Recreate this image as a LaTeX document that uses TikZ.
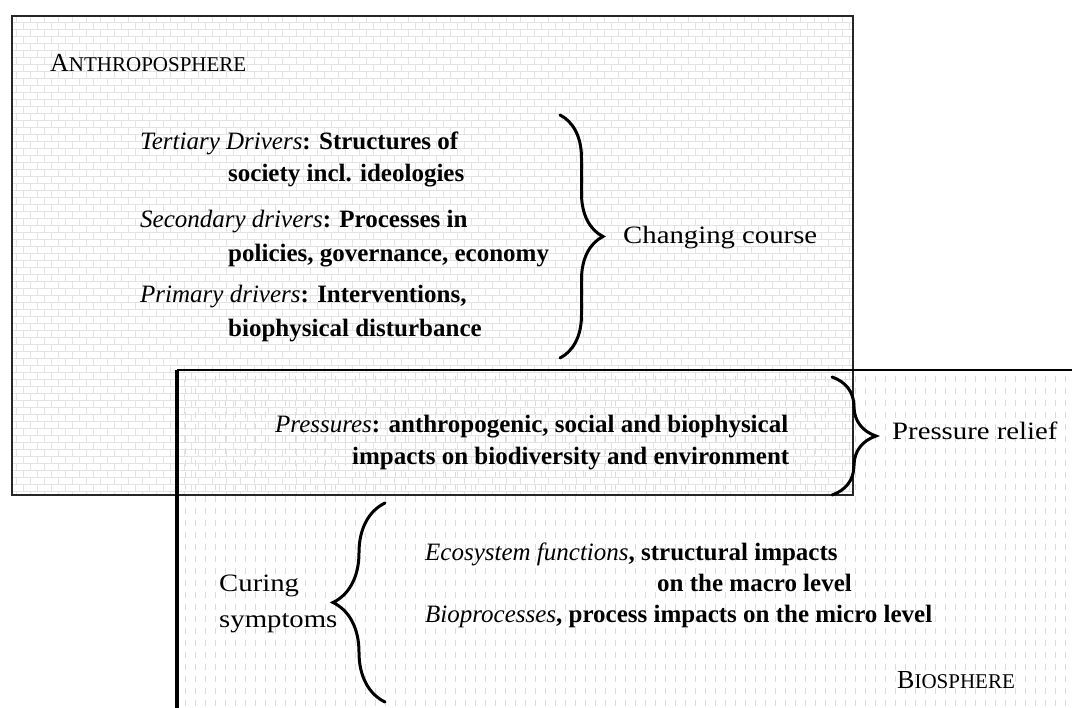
\documentclass[tikz,border=0pt]{standalone}
\usepackage{fontspec}
\setmainfont{Liberation Serif}
\newfontfamily\garfont[FakeStretch=1.15]{Liberation Serif}
\usetikzlibrary{patterns,decorations.pathreplacing}
\pgfdeclarepatternformonly{mybricks}{\pgfqpoint{-1pt}{-1pt}}{\pgfqpoint{15pt}{15pt}}{\pgfqpoint{14pt}{14pt}}{%
  \pgfsetlinewidth{0.7pt}%
  \pgfpathmoveto{\pgfqpoint{0pt}{0pt}}\pgfpathlineto{\pgfqpoint{14pt}{0pt}}%
  \pgfpathmoveto{\pgfqpoint{0pt}{7pt}}\pgfpathlineto{\pgfqpoint{14pt}{7pt}}%
  \pgfpathmoveto{\pgfqpoint{2pt}{0pt}}\pgfpathlineto{\pgfqpoint{2pt}{7pt}}%
  \pgfpathmoveto{\pgfqpoint{9pt}{7pt}}\pgfpathlineto{\pgfqpoint{9pt}{14pt}}%
  \pgfusepath{stroke}}
\pgfdeclarepatternformonly{mydashes}{\pgfqpoint{-1pt}{-1pt}}{\pgfqpoint{11pt}{13pt}}{\pgfqpoint{10pt}{12pt}}{%
  \pgfsetlinewidth{0.8pt}%
  \pgfpathmoveto{\pgfqpoint{5pt}{2pt}}\pgfpathlineto{\pgfqpoint{5pt}{8pt}}%
  \pgfusepath{stroke}}
\tikzset{
  body/.style={anchor=base west, inner sep=0pt, font=\fontsize{25}{30}\selectfont},
  lab/.style={anchor=base west, inner sep=0pt, font=\garfont\fontsize{25}{30}\selectfont},
  sphere/.style={anchor=base west, inner sep=0pt},
  bracestyle/.style={decorate, line width=3pt, line cap=round, black},
  boxline/.style={line width=1.8pt, black!85},
}
\begin{document}
\begin{tikzpicture}[x=1pt,y=-1pt]
\useasboundingbox (0,0) rectangle (1072,708);
% biosphere background
\fill[white] (0,0) rectangle (1072,708);
\fill[pattern=mydashes, pattern color=black!14] (177,370) rectangle (1072,708);
% anthroposphere box
\node[boxline, draw, pattern=mybricks, pattern color=black!11, anchor=north west,
      minimum width=841, minimum height=479, inner sep=0pt] (anthro) at (11,15) {};
% biosphere box edges
\coordinate (bioTR) at (1072,370);
\coordinate (bioTL) at (177,370);
\coordinate (bioBL) at (177,708);
\draw[line width=2.6pt, black] (bioTR) -- (bioTL);
\draw[line width=3.4pt, black] (bioTL) -- (bioBL);

% titles
\node[sphere] (anthrotitle) at (50,72) {{\fontsize{26}{30}\selectfont A}{\fontsize{21}{30}\selectfont NTHROPOSPHERE}};
\node[sphere] (biotitle) at (897,688) {{\fontsize{26}{30}\selectfont B}{\fontsize{21}{30}\selectfont IOSPHERE}};

% drivers
\node[body] (t1) at (140,150) {\textit{Tertiary Drivers}\textbf{: Structures of}};
\node[body] (t2) at (228,182) {\textbf{society incl. ideologies}};
\node[body] (s1) at (140,228) {\textit{Secondary drivers}\textbf{: Processes in}};
\node[body] (s2) at (228,262) {\textbf{policies, governance, economy}};
\node[body] (p1) at (140,303) {\textit{Primary drivers}\textbf{: Interventions,}};
\node[body] (p2) at (228,337) {\textbf{biophysical disturbance}};

% pressures
\node[body] (pr1) at (275,433) {\textit{Pressures}\textbf{: anthropogenic, social and biophysical}};
\node[body] (pr2) at (352,465) {\textbf{impacts on biodiversity and environment}};

% biosphere items
\node[body] (e1) at (425,561) {\textit{Ecosystem functions}\textbf{, structural impacts}};
\node[body] (e2) at (657,592) {\textbf{on the macro level}};
\node[body] (b1) at (425,623) {\textit{Bioprocesses}\textbf{, process impacts on the micro level}};

% braces and labels
\coordinate (br1a) at (560,115);
\coordinate (br1b) at (560,358);
\draw[bracestyle, decoration={brace, amplitude=43pt}] (br1a) -- (br1b);
\node[lab] (changing) at (623,244) {Changing course};

\coordinate (br2a) at (832,377);
\coordinate (br2b) at (832,495);
\draw[bracestyle, decoration={brace, amplitude=44pt}] (br2a) -- (br2b);
\node[lab] (relief) at (892,440) {Pressure relief};

\coordinate (br3a) at (385,702);
\coordinate (br3b) at (385,503);
\draw[bracestyle, decoration={brace, amplitude=52pt}] (br3a) -- (br3b);
\node[lab] (curing) at (219,592) {Curing};
\node[lab] (symptoms) at (219,627) {symptoms};
\end{tikzpicture}
\end{document}
